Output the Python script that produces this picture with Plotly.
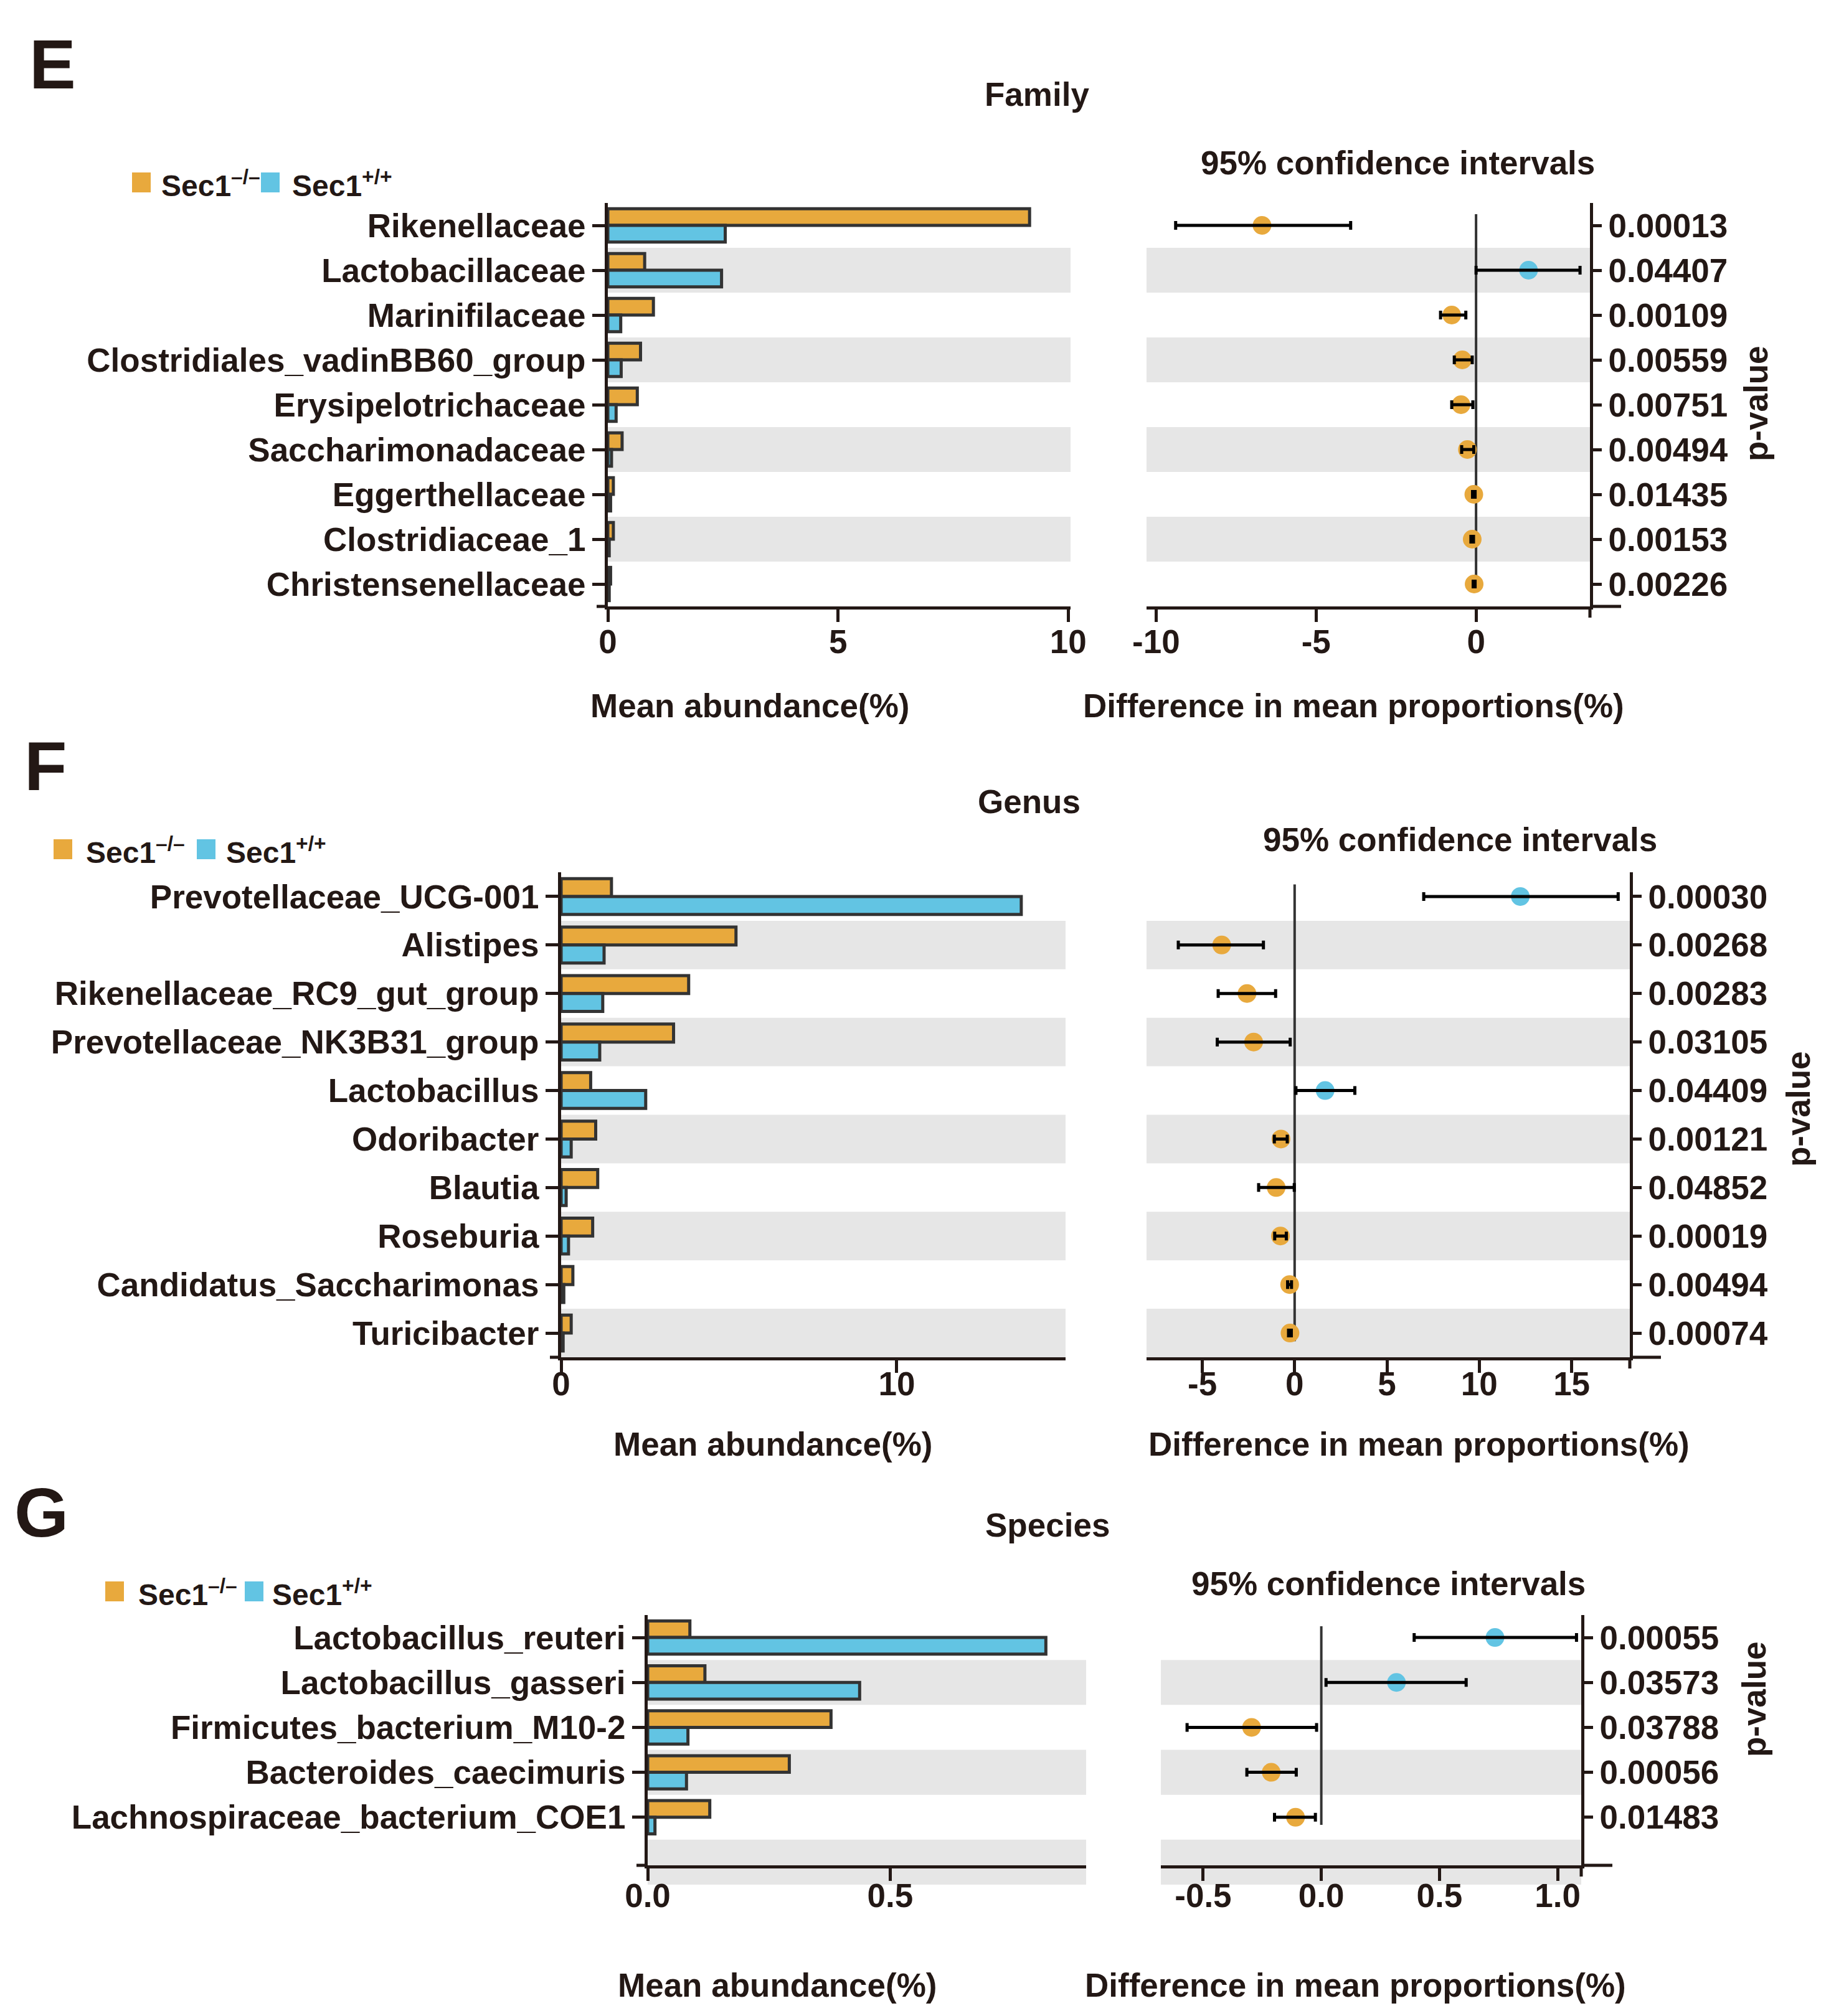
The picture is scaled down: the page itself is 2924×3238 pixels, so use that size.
import plotly.graph_objects as go

W, H = 2924, 3238
ORANGE = "#E8A93D"
BLUE = "#62C4E3"
BAND = "#E6E6E6"
INK = "#231815"
EDGE = "#333333"
FONT = "Liberation Sans, Arial, sans-serif"
FS = 53

# ---- E: Family
family_names = ["Rikenellaceae", "Lactobacillaceae", "Marinifilaceae", "Clostridiales_vadinBB60_group",
                "Erysipelotrichaceae", "Saccharimonadaceae", "Eggerthellaceae", "Clostridiaceae_1",
                "Christensenellaceae"]
family_ko = [9.16, 0.80, 0.99, 0.71, 0.64, 0.31, 0.12, 0.12, 0.06]
family_wt = [2.55, 2.47, 0.28, 0.29, 0.18, 0.08, 0.06, 0.03, 0.03]
family_diff = [-6.69, 1.64, -0.76, -0.43, -0.47, -0.27, -0.07, -0.12, -0.06]
family_lo = [-9.39, 0.00, -1.11, -0.68, -0.76, -0.45, -0.11, -0.16, -0.09]
family_hi = [-3.92, 3.25, -0.32, -0.12, -0.10, -0.07, -0.03, -0.08, -0.03]
family_p = ["0.00013", "0.04407", "0.00109", "0.00559", "0.00751", "0.00494", "0.01435", "0.00153", "0.00226"]

# ---- F: Genus
genus_names = ["Prevotellaceae_UCG-001", "Alistipes", "Rikenellaceae_RC9_gut_group", "Prevotellaceae_NK3B31_group",
               "Lactobacillus", "Odoribacter", "Blautia", "Roseburia", "Candidatus_Saccharimonas", "Turicibacter"]
genus_ko = [1.50, 5.21, 3.80, 3.35, 0.88, 1.03, 1.09, 0.94, 0.35, 0.30]
genus_wt = [13.71, 1.28, 1.24, 1.15, 2.52, 0.30, 0.15, 0.22, 0.08, 0.06]
genus_diff = [12.22, -3.95, -2.58, -2.22, 1.65, -0.74, -1.00, -0.77, -0.27, -0.25]
genus_lo = [6.99, -6.30, -4.14, -4.19, 0.07, -1.10, -1.95, -1.08, -0.38, -0.33]
genus_hi = [17.52, -1.69, -1.03, -0.24, 3.26, -0.40, -0.02, -0.45, -0.17, -0.18]
genus_p = ["0.00030", "0.00268", "0.00283", "0.03105", "0.04409", "0.00121", "0.04852", "0.00019", "0.00494", "0.00074"]

# ---- G: Species
species_names = ["Lactobacillus_reuteri", "Lactobacillus_gasseri", "Firmicutes_bacterium_M10-2",
                 "Bacteroides_caecimuris", "Lachnospiraceae_bacterium_COE1"]
species_ko = [0.087, 0.118, 0.378, 0.292, 0.128]
species_wt = [0.821, 0.437, 0.083, 0.080, 0.015]
species_diff = [0.735, 0.318, -0.295, -0.212, -0.109]
species_lo = [0.393, 0.020, -0.568, -0.315, -0.198]
species_hi = [1.080, 0.613, -0.020, -0.106, -0.025]
species_p = ["0.00055", "0.03573", "0.03788", "0.00056", "0.01483"]

# layout of each panel, in pixels of the 2924x3238 page
panels = [
    dict(letter="E", title="Family", names=family_names, ko=family_ko, wt=family_wt,
         diff=family_diff, lo=family_lo, hi=family_hi, p=family_p,
         bar_x=(968, 1711), ci_x=(1833, 2545), y=(318, 966), ybot=8.5,
         bar_range=[0, 10.05], bar_ticks=[0, 5, 10], dec=0,
         ci_range=[-10.30, 3.56], ci_ticks=[-10, -5, 0], standoff=-14,
         letter_xy=(76, 95), title_xy=(1657, 143), ci_title_xy=(2236, 254),
         leg=(204, 249, 411, 459, 285), xtitle_y=1125, mean_x=1196, diff_x=2165, pval_xy=(2812, 640)),
    dict(letter="F", title="Genus", names=genus_names, ko=genus_ko, wt=genus_wt,
         diff=genus_diff, lo=genus_lo, hi=genus_hi, p=genus_p,
         bar_x=(893, 1703), ci_x=(1833, 2609), y=(1393, 2172), ybot=9.5,
         bar_range=[0, 15.03], bar_ticks=[0, 10], dec=0,
         ci_range=[-8.02, 18.15], ci_ticks=[-5, 0, 5, 10, 15], standoff=-28,
         letter_xy=(65, 1222), title_xy=(1644, 1279), ci_title_xy=(2336, 1341),
         leg=(78, 128, 308, 353, 1356), xtitle_y=2311, mean_x=1233, diff_x=2270, pval_xy=(2879, 1773)),
    dict(letter="G", title="Species", names=species_names, ko=species_ko, wt=species_wt,
         diff=species_diff, lo=species_lo, hi=species_hi, p=species_p,
         bar_x=(1032, 1736), ci_x=(1856, 2531), y=(2586, 2988), ybot=5.07,
         bar_range=[0, 0.904], bar_ticks=[0, 0.5], dec=1,
         ci_range=[-0.679, 1.100], ci_ticks=[-0.5, 0, 0.5, 1.0], standoff=-22,
         letter_xy=(58, 2421), title_xy=(1674, 2441), ci_title_xy=(2221, 2535),
         leg=(161, 212, 385, 427, 2548), xtitle_y=3180, mean_x=1240, diff_x=2168, pval_xy=(2808, 2721)),
]


def fx(v):
    return v / W


def fy(v):
    return 1 - v / H


tickfont = dict(family=FONT, size=FS, color=INK, weight="bold")
fig = go.Figure()
layout = {}
shapes = []
annotations = []


def text(x, y, s, size=FS, xanchor="center", angle=0):
    annotations.append(dict(x=fx(x), y=fy(y), xref="paper", yref="paper", text=s, showarrow=False,
                            xanchor=xanchor, yanchor="middle", textangle=angle,
                            font=dict(family=FONT, size=size, color=INK, weight="bold")))


def paper_line(x0, y0, x1, y1, width=5):
    shapes.append(dict(type="line", xref="paper", yref="paper", x0=fx(x0), y0=fy(y0), x1=fx(x1), y1=fy(y1),
                       line=dict(color=INK, width=width)))


for k, P in enumerate(panels):
    a, b = 2 * k + 1, 2 * k + 2
    xa, ya = ("x", "y") if a == 1 else (f"x{a}", f"y{a}")
    xb, yb = f"x{b}", f"y{b}"
    names = P["names"]
    n = len(names)
    top, bot = P["y"]
    yrange = [P["ybot"], -0.5]

    # mean abundance bars
    fig.add_trace(go.Bar(y=names, x=P["ko"], orientation="h", xaxis=xa, yaxis=ya, showlegend=False,
                         marker=dict(color=ORANGE, line=dict(color=EDGE, width=5))))
    fig.add_trace(go.Bar(y=names, x=P["wt"], orientation="h", xaxis=xa, yaxis=ya, showlegend=False,
                         marker=dict(color=BLUE, line=dict(color=EDGE, width=5))))

    # differences with 95% CI (error bars drawn on top of the dots)
    colors = [BLUE if d > 0 else ORANGE for d in P["diff"]]
    fig.add_trace(go.Scatter(x=P["diff"], y=names, mode="markers", xaxis=xb, yaxis=yb, showlegend=False,
                             marker=dict(size=30, color=colors, line=dict(width=0))))
    fig.add_trace(go.Scatter(x=P["diff"], y=names, mode="markers", xaxis=xb, yaxis=yb, showlegend=False,
                             marker=dict(size=2, opacity=0),
                             error_x=dict(type="data", symmetric=False,
                                          array=[h - d for h, d in zip(P["hi"], P["diff"])],
                                          arrayminus=[d - l for d, l in zip(P["diff"], P["lo"])],
                                          color="black", thickness=5, width=7)))

    common = dict(showgrid=False, zeroline=False, showline=True, linewidth=5, linecolor=INK,
                  ticks="outside", tickwidth=5, tickcolor=INK, tickfont=tickfont)
    ydom = [fy(bot), fy(top)]
    fmt = "{:.%df}" % P["dec"]
    layout["xaxis" if a == 1 else f"xaxis{a}"] = dict(
        common, domain=[fx(P["bar_x"][0]), fx(P["bar_x"][1])], range=P["bar_range"], anchor=ya,
        tickmode="array", tickvals=P["bar_ticks"], ticktext=[fmt.format(v) for v in P["bar_ticks"]],
        ticklen=20, ticklabelstandoff=P["standoff"])
    layout["yaxis" if a == 1 else f"yaxis{a}"] = dict(
        common, domain=ydom, type="category", categoryarray=names, range=yrange, anchor=xa,
        tickmode="array", tickvals=names, ticktext=names, ticklen=20)
    layout[f"xaxis{b}"] = dict(
        common, domain=[fx(P["ci_x"][0]), fx(P["ci_x"][1])], range=P["ci_range"], anchor=yb,
        tickmode="array", tickvals=P["ci_ticks"], ticktext=[fmt.format(v) for v in P["ci_ticks"]],
        ticklen=20, ticklabelstandoff=P["standoff"])
    layout[f"yaxis{b}"] = dict(
        common, domain=ydom, type="category", categoryarray=names, range=yrange, anchor=xb,
        side="right", tickmode="array", tickvals=names, ticktext=P["p"], ticklen=14)

    # alternating grey row bands (paper coords so the last G band may run below the axis)
    def row_px(v):
        return top + (v + 0.5) / (P["ybot"] + 0.5) * (bot - top)

    for i in range(1, n + 2, 2):
        if i - 0.5 >= P["ybot"]:
            continue
        for xr in (xa, xb):
            shapes.append(dict(type="rect", xref=f"{xr} domain", yref="paper", x0=0, x1=1,
                               y0=fy(row_px(i + 0.5)), y1=fy(row_px(i - 0.5)),
                               fillcolor=BAND, line=dict(width=0), layer="below"))
    # zero reference line
    shapes.append(dict(type="line", xref=xb, yref=yb, x0=0, x1=0, y0=-0.25, y1=n - 1 + 0.17,
                       line=dict(color=EDGE, width=4), layer="below"))
    # small axis overhangs seen in the original
    paper_line(P["ci_x"][1], bot, P["ci_x"][1] + 50, bot)
    paper_line(P["ci_x"][1], bot, P["ci_x"][1], bot + 18)
    paper_line(P["bar_x"][0] - 18, bot, P["bar_x"][0], bot)

    # legend
    sq_o, tx_o, sq_b, tx_b, ly = P["leg"]
    for sx, col in ((sq_o, ORANGE), (sq_b, BLUE)):
        shapes.append(dict(type="rect", xref="paper", yref="paper", x0=fx(sx), x1=fx(sx + 30),
                           y0=fy(ly + 16), y1=fy(ly - 16), fillcolor=col, line=dict(width=0)))
    text(tx_o, ly + 2, "Sec1<sup>\u2013/\u2013</sup>", size=48, xanchor="left")
    text(tx_b, ly + 2, "Sec1<sup>+/+</sup>", size=48, xanchor="left")

    text(*P["letter_xy"], P["letter"], size=112)
    text(*P["title_xy"], P["title"])
    text(*P["ci_title_xy"], "95% confidence intervals")
    text(P["mean_x"], P["xtitle_y"], "Mean abundance(%)")
    text(P["diff_x"], P["xtitle_y"], "Difference in mean proportions(%)")
    text(*P["pval_xy"], "p-value", angle=-90)

fig.update_layout(
    **layout,
    width=W, height=H, autosize=False,
    margin=dict(l=0, r=0, t=0, b=0, autoexpand=False),
    barmode="group", bargap=0.26, bargroupgap=0,
    paper_bgcolor="white", plot_bgcolor="rgba(0,0,0,0)",
    shapes=shapes, annotations=annotations,
    font=dict(family=FONT, color=INK),
    showlegend=False,
)

fig.write_html("out.html")
